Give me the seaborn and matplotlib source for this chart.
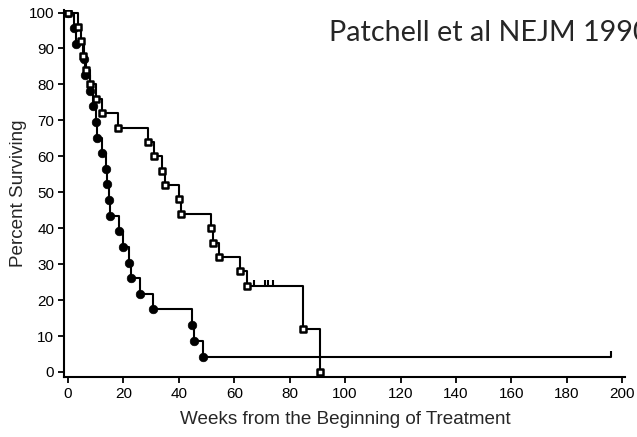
import matplotlib
matplotlib.use("Agg")
import matplotlib.pyplot as plt
import seaborn as sns
import pandas as pd

# Radiotherapy alone (filled circles): event times (weeks) and survival (%)
rt_weeks = [0, 2.2, 2.9, 5.8, 6.2, 7.9, 9.0, 10.0, 10.5, 12.1, 13.6, 14.1, 14.8,
            15.3, 18.4, 20.0, 22.0, 22.7, 26.0, 30.8, 44.6, 45.6, 48.6]
rt_surv = [100, 95.7, 91.3, 87.0, 82.6, 78.3, 73.9, 69.6, 65.2, 60.9, 56.5, 52.2,
           47.8, 43.5, 39.1, 34.8, 30.4, 26.1, 21.7, 17.4, 13.0, 8.7, 4.3]
rt_last_followup = 196

# Surgery plus radiotherapy (open squares)
sx_weeks = [0, 3.5, 4.5, 5.3, 6.5, 8.0, 10.0, 12.1, 18.2, 28.8, 31.2, 33.8, 35.0,
            40.0, 40.8, 51.6, 52.5, 54.5, 62.1, 64.5, 84.9, 91.0]
sx_surv = [100, 96, 92, 88, 84, 80, 76, 72, 68, 64, 60, 56, 52, 48, 44, 40, 36,
           32, 28, 24, 12, 0]
sx_censored = [67, 71, 72, 74]
sx_censored_surv = 24

x_ticks = [0, 20, 40, 60, 80, 100, 120, 140, 160, 180, 200]
y_ticks = [0, 10, 20, 30, 40, 50, 60, 70, 80, 90, 100]

sns.set_theme(style="ticks")
plt.rcParams["font.family"] = ["Liberation Sans", "DejaVu Sans"]

fig = plt.figure(figsize=(6.37, 4.37), dpi=100)
ax = fig.add_axes([0.1005, 0.1373, 0.881, 0.8398])

rt_line = pd.DataFrame({"week": rt_weeks + [rt_last_followup],
                        "surv": rt_surv + [rt_surv[-1]]})
sx_line = pd.DataFrame({"week": sx_weeks, "surv": sx_surv})

for df in (rt_line, sx_line):
    sns.lineplot(data=df, x="week", y="surv", ax=ax, estimator=None, sort=False,
                 drawstyle="steps-post", color="black", linewidth=1.5)

sns.scatterplot(x=rt_weeks, y=rt_surv, ax=ax, marker="o", s=38,
                color="black", edgecolor="black", linewidth=0.5, zorder=4)
sns.scatterplot(x=sx_weeks, y=sx_surv, ax=ax, marker="s", s=24,
                facecolor="white", edgecolor="black", linewidth=1.8, zorder=5)

# censoring ticks
tick_h = 1.6
ax.vlines(sx_censored, sx_censored_surv, sx_censored_surv + tick_h,
          color="black", linewidth=1.5)
ax.vlines([rt_last_followup], rt_surv[-1], rt_surv[-1] + tick_h,
          color="black", linewidth=1.5)

ax.set_xlim(-1.45, 201.1)
ax.set_ylim(-1.4, 100.7)
ax.set_xticks(x_ticks)
ax.set_yticks(y_ticks)
ax.tick_params(axis="both", labelsize=11, length=4, width=1.3, pad=3,
               colors="black")
for side in ("top", "right"):
    ax.spines[side].set_visible(False)
for side in ("left", "bottom"):
    ax.spines[side].set_linewidth(1.5)
    ax.spines[side].set_color("black")

ax.set_xlabel("Weeks from the Beginning of Treatment", fontsize=13.6)
ax.set_ylabel("Percent Surviving", fontsize=13.6)
ax.xaxis.set_label_coords(0.5 + (345 - 344.5) / 561, (377 - 420) / 367)
ax.yaxis.set_label_coords((18 - 64) / 561, 0.5)
ax.xaxis.label.set_va("center")
ax.yaxis.label.set_va("center")

fig.text(329 / 637, 1 - 41 / 437, "Patchell et al NEJM 1990",
         fontsize=20.7, family=["Lato", "DejaVu Sans"], ha="left", va="baseline")

fig.savefig("out.png", dpi=100, facecolor="white")
